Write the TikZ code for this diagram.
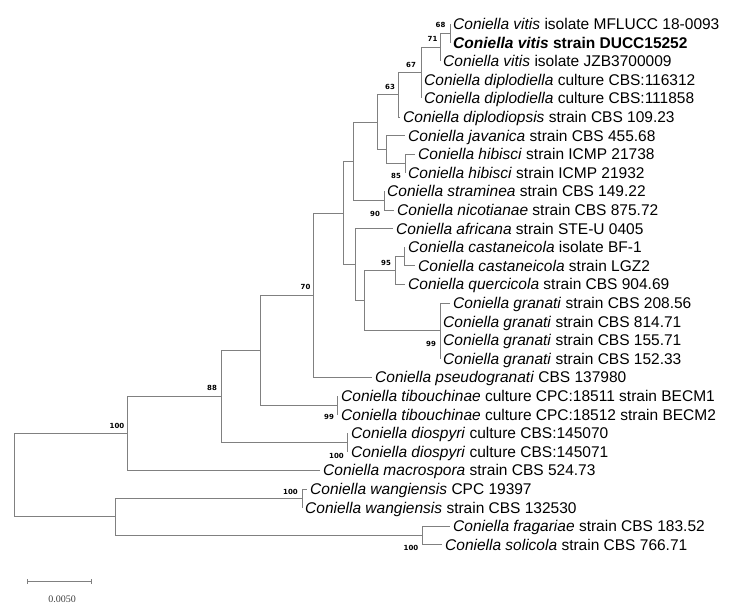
\documentclass[tikz,border=0pt]{standalone}
\usepackage{fontspec}
\setmainfont{Liberation Sans}
\newfontfamily\bsfont{DejaVu Sans}
\newfontfamily\barfont{Liberation Serif}

\begin{document}
\begin{tikzpicture}[x=1pt,y=-1pt]
\tikzstyle{branch}=[draw=black!50,line width=0.9pt]
\tikzstyle{leaf}=[anchor=west,inner xsep=3pt,inner ysep=0pt,text height=11pt,text depth=0pt,font=\fontsize{15.5}{18}\selectfont]
\tikzstyle{boot}=[inner sep=0pt,font=\bsfont\bfseries\fontsize{7}{8}\selectfont]
\useasboundingbox (0,0) rectangle (754,612);

\node[leaf](vitA) at (450,24) {\textit{Coniella vitis} isolate MFLUCC 18-0093};
\node[leaf](vitB) at (450,42.6) {\textbf{\textit{Coniella vitis} strain DUCC15252}};
\node[leaf](vitC) at (440,61.2) {\textit{Coniella vitis} isolate JZB3700009};
\node[leaf](dipA) at (421,79.8) {\textit{Coniella diplodiella} culture CBS:116312};
\node[leaf](dipB) at (421,98.4) {\textit{Coniella diplodiella} culture CBS:111858};
\node[leaf](dips) at (400,117) {\textit{Coniella diplodiopsis} strain CBS 109.23};
\node[leaf](jav) at (405,135.6) {\textit{Coniella javanica} strain CBS 455.68};
\node[leaf](hibA) at (415,154.2) {\textit{Coniella hibisci} strain ICMP 21738};
\node[leaf](hibB) at (405,172.8) {\textit{Coniella hibisci} strain ICMP 21932};
\node[leaf](stra) at (384,191.4) {\textit{Coniella straminea} strain CBS 149.22};
\node[leaf](nic) at (394,210) {\textit{Coniella nicotianae} strain CBS 875.72};
\node[leaf](afr) at (393,228.6) {\textit{Coniella africana} strain STE-U 0405};
\node[leaf](casA) at (405,247.2) {\textit{Coniella castaneicola} isolate BF-1};
\node[leaf](casB) at (415,265.8) {\textit{Coniella castaneicola} strain LGZ2};
\node[leaf](que) at (405,284.4) {\textit{Coniella quercicola} strain CBS 904.69};
\node[leaf](graA) at (450,303) {\textit{Coniella granati} strain CBS 208.56};
\node[leaf](graB) at (440,321.6) {\textit{Coniella granati} strain CBS 814.71};
\node[leaf](graC) at (440,340.2) {\textit{Coniella granati} strain CBS 155.71};
\node[leaf](graD) at (440,358.8) {\textit{Coniella granati} strain CBS 152.33};
\node[leaf](pse) at (372,377.4) {\textit{Coniella pseudogranati} CBS 137980};
\node[leaf](tibA) at (338,396) {\textit{Coniella tibouchinae} culture CPC:18511 strain BECM1};
\node[leaf](tibB) at (338,414.6) {\textit{Coniella tibouchinae} culture CPC:18512 strain BECM2};
\node[leaf](dioA) at (348,433.2) {\textit{Coniella diospyri} culture CBS:145070};
\node[leaf](dioB) at (348,451.8) {\textit{Coniella diospyri} culture CBS:145071};
\node[leaf](mac) at (320,470.4) {\textit{Coniella macrospora} strain CBS 524.73};
\node[leaf](wanA) at (307,489) {\textit{Coniella wangiensis} CPC 19397};
\node[leaf](wanB) at (302,507.6) {\textit{Coniella wangiensis} strain CBS 132530};
\node[leaf](fra) at (450,526.2) {\textit{Coniella fragariae} strain CBS 183.52};
\node[leaf](sol) at (442,544.8) {\textit{Coniella solicola} strain CBS 766.71};

\coordinate (n68) at (450,33.3);
\coordinate (n71) at (440,47.25);
\coordinate (n67) at (421,72.8);
\coordinate (n63) at (398,94.9);
\coordinate (n85) at (405,163.5);
\coordinate (nJH) at (386,149.55);
\coordinate (nA) at (377,122.2);
\coordinate (n90) at (384,200.7);
\coordinate (nB) at (353,161.45);
\coordinate (n95) at (404,256.5);
\coordinate (nQ) at (395,270.45);
\coordinate (n99g) at (440,330.9);
\coordinate (nC) at (364,300.7);
\coordinate (nD) at (355,264.65);
\coordinate (nE) at (343,213.05);
\coordinate (n70) at (313,295.2);
\coordinate (n99t) at (337,405.3);
\coordinate (nF) at (260,350.25);
\coordinate (n100d) at (347,442.5);
\coordinate (n88) at (221,396.4);
\coordinate (n100m) at (127,433.4);
\coordinate (n100w) at (302,498.3);
\coordinate (n100s) at (422,535.5);
\coordinate (nG) at (115,516.9);
\coordinate (root) at (14,475.15);

\draw[branch] (n68) |- (vitA.west);
\draw[branch] (n68) |- (vitB.west);
\draw[branch] (n71) |- (n68);
\draw[branch] (n71) |- (vitC.west);
\draw[branch] (n67) |- (n71);
\draw[branch] (n67) |- (dipA.west);
\draw[branch] (n67) |- (dipB.west);
\draw[branch] (n63) |- (n67);
\draw[branch] (n63) |- (dips.west);
\draw[branch] (n85) |- (hibA.west);
\draw[branch] (n85) |- (hibB.west);
\draw[branch] (nJH) |- (jav.west);
\draw[branch] (nJH) |- (n85);
\draw[branch] (nA) |- (n63);
\draw[branch] (nA) |- (nJH);
\draw[branch] (n90) |- (stra.west);
\draw[branch] (n90) |- (nic.west);
\draw[branch] (nB) |- (nA);
\draw[branch] (nB) |- (n90);
\draw[branch] (n95) |- (casA.west);
\draw[branch] (n95) |- (casB.west);
\draw[branch] (nQ) |- (n95);
\draw[branch] (nQ) |- (que.west);
\draw[branch] (n99g) |- (graA.west);
\draw[branch] (n99g) |- (graB.west);
\draw[branch] (n99g) |- (graC.west);
\draw[branch] (n99g) |- (graD.west);
\draw[branch] (nC) |- (nQ);
\draw[branch] (nC) |- (n99g);
\draw[branch] (nD) |- (afr.west);
\draw[branch] (nD) |- (nC);
\draw[branch] (nE) |- (nB);
\draw[branch] (nE) |- (nD);
\draw[branch] (n70) |- (nE);
\draw[branch] (n70) |- (pse.west);
\draw[branch] (n99t) |- (tibA.west);
\draw[branch] (n99t) |- (tibB.west);
\draw[branch] (nF) |- (n70);
\draw[branch] (nF) |- (n99t);
\draw[branch] (n100d) |- (dioA.west);
\draw[branch] (n100d) |- (dioB.west);
\draw[branch] (n88) |- (nF);
\draw[branch] (n88) |- (n100d);
\draw[branch] (n100m) |- (n88);
\draw[branch] (n100m) |- (mac.west);
\draw[branch] (n100w) |- (wanA.west);
\draw[branch] (n100w) |- (wanB.west);
\draw[branch] (n100s) |- (fra.west);
\draw[branch] (n100s) |- (sol.west);
\draw[branch] (nG) |- (n100w);
\draw[branch] (nG) |- (n100s);
\draw[branch] (root) |- (n100m);
\draw[branch] (root) |- (nG);

\node[boot](b68) at (440.5,25) {68};
\node[boot](b71) at (432.5,39) {71};
\node[boot](b67) at (411,65) {67};
\node[boot](b63) at (390,87) {63};
\node[boot](b85) at (396,176) {85};
\node[boot](b90) at (375,214) {90};
\node[boot](b95) at (386,263) {95};
\node[boot](b70) at (305.5,287) {70};
\node[boot](b99g) at (431,344) {99};
\node[boot](b99t) at (329,417) {99};
\node[boot](b88) at (212,388) {88};
\node[boot](b100m) at (117,426) {100};
\node[boot](b100d) at (336.5,456) {100};
\node[boot](b100w) at (290.5,492) {100};
\node[boot](b100s) at (411,548) {100};

\coordinate (barL) at (27,581);
\coordinate (barR) at (91,581);
\draw[branch,line width=0.8pt] (barL) -- (barR);
\draw[branch,line width=0.8pt] ([yshift=-2.5pt]barL) -- ([yshift=2.5pt]barL);
\draw[branch,line width=0.8pt] ([yshift=-2.5pt]barR) -- ([yshift=2.5pt]barR);
\node[inner sep=0pt,text=black!75,font=\barfont\fontsize{10}{11}\selectfont](barlab) at (62,599) {0.0050};
\end{tikzpicture}
\end{document}
